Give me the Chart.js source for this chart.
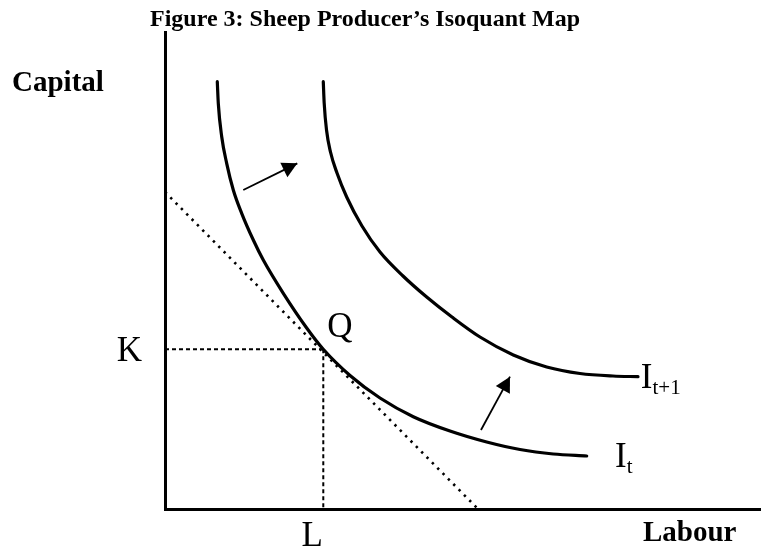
<!DOCTYPE html>
<html>
<head>
<meta charset="utf-8">
<script src="https://cdn.jsdelivr.net/npm/chart.js@4"></script>
<style>
  html, body { margin: 0; padding: 0; background: #fff; }
  #wrap { width: 761px; height: 550px; }
</style>
</head>
<body>
<div id="wrap"><canvas id="c" width="761" height="550"></canvas></div>
<script>
// ---- Data (arbitrary units: Labour 0..12, Capital 0..10) ----
const chartTitle = 'Figure 3: Sheep Producer\u2019s Isoquant Map';
const xAxisName = 'Labour';
const yAxisName = 'Capital';
const yTickLabel = 'K';
const xTickLabel = 'L';
const pointLabel = 'Q';

// Isoquant I_t
const isoquantT = [
  {x: 1.053, y: 8.958}, {x: 1.073, y: 8.505}, {x: 1.142, y: 7.805}, {x: 1.242, y: 7.247},
  {x: 1.375, y: 6.688}, {x: 1.544, y: 6.199}, {x: 1.778, y: 5.639}, {x: 1.979, y: 5.220},
  {x: 2.382, y: 4.522}, {x: 2.853, y: 3.795}, {x: 3.187, y: 3.348}, {x: 3.725, y: 2.799},
  {x: 4.329, y: 2.327}, {x: 4.999, y: 1.935}, {x: 5.738, y: 1.635}, {x: 6.477, y: 1.405},
  {x: 7.148, y: 1.247}, {x: 7.818, y: 1.153}, {x: 8.491, y: 1.111}
];
// Isoquant I_{t+1}
const isoquantT1 = [
  {x: 3.187, y: 8.958}, {x: 3.205, y: 8.512}, {x: 3.252, y: 7.945}, {x: 3.332, y: 7.484},
  {x: 3.463, y: 7.044}, {x: 3.658, y: 6.541}, {x: 3.966, y: 5.933}, {x: 4.329, y: 5.388},
  {x: 4.792, y: 4.885}, {x: 5.269, y: 4.444}, {x: 5.778, y: 4.025}, {x: 6.342, y: 3.606},
  {x: 7.013, y: 3.229}, {x: 7.685, y: 2.977}, {x: 8.356, y: 2.841}, {x: 9.020, y: 2.788},
  {x: 9.523, y: 2.774}
];
// Isocost (tangent) line
const isocost = [{x: 0, y: 6.646}, {x: 6.302, y: 0}];
// Optimum Q
const optimum = {x: 3.187, y: 3.348};
// Shift arrows (tail -> tip)
const arrowA = [{x: 1.576, y: 6.688}, {x: 2.664, y: 7.247}];
const arrowB = [{x: 6.362, y: 1.656}, {x: 6.946, y: 2.774}];
// Curve labels
const curveLabels = [
  {main: 'I', sub: 't', x: 9.06, y: 1.11},
  {main: 'I', sub: 't+1', x: 9.58, y: 2.77}
];

const kLine = [{x: 0, y: optimum.y}, {x: optimum.x, y: optimum.y}];
const lLine = [{x: optimum.x, y: optimum.y}, {x: optimum.x, y: 0}];

const SERIF = '"Liberation Serif", "Times New Roman", serif';

const arrowHeads = {
  id: 'arrowHeads',
  afterDatasetsDraw(chart) {
    const {ctx, scales: {x, y}} = chart;
    ctx.save();
    ctx.fillStyle = '#000';
    [arrowA, arrowB].forEach(a => {
      const tx = x.getPixelForValue(a[1].x), ty = y.getPixelForValue(a[1].y);
      const sx = x.getPixelForValue(a[0].x), sy = y.getPixelForValue(a[0].y);
      const len = Math.hypot(tx - sx, ty - sy);
      const ux = (tx - sx) / len, uy = (ty - sy) / len;
      const hl = 15, hw = 8;
      const bx = tx - ux * hl, by = ty - uy * hl;
      ctx.beginPath();
      ctx.moveTo(tx, ty);
      ctx.lineTo(bx - uy * hw, by + ux * hw);
      ctx.lineTo(bx + uy * hw, by - ux * hw);
      ctx.closePath();
      ctx.fill();
    });
    ctx.restore();
  }
};

const textLabels = {
  id: 'textLabels',
  afterDraw(chart) {
    const {ctx, scales: {x, y}, chartArea} = chart;
    ctx.save();
    ctx.fillStyle = '#000';
    ctx.textBaseline = 'alphabetic';
    // title
    ctx.textAlign = 'left';
    ctx.font = 'bold 24px ' + SERIF;
    ctx.fillText(chartTitle, 150, 26);
    // axis names
    ctx.font = 'bold 29px ' + SERIF;
    ctx.fillText(yAxisName, 12, 91);
    ctx.fillText(xAxisName, 643, 541);
    // K and L
    ctx.font = '35px ' + SERIF;
    ctx.textAlign = 'right';
    ctx.fillText(yTickLabel, chartArea.left - 23, y.getPixelForValue(optimum.y) + 12);
    ctx.textAlign = 'center';
    ctx.fillText(xTickLabel, x.getPixelForValue(optimum.x) - 11, chartArea.bottom + 37);
    // Q
    ctx.textAlign = 'left';
    ctx.fillText(pointLabel, x.getPixelForValue(optimum.x) + 4, y.getPixelForValue(optimum.y) - 12);
    // curve labels
    curveLabels.forEach(l => {
      const px = x.getPixelForValue(l.x), py = y.getPixelForValue(l.y);
      ctx.font = '35px ' + SERIF;
      ctx.fillText(l.main, px, py + 11);
      const w = ctx.measureText(l.main).width;
      ctx.font = '21px ' + SERIF;
      ctx.fillText(l.sub, px + w, py + 17);
    });
    ctx.restore();
  }
};

const curveStyle = {
  borderColor: '#000', borderWidth: 3.2, pointRadius: 0, fill: false,
  cubicInterpolationMode: 'monotone', borderCapStyle: 'round'
};

new Chart(document.getElementById('c'), {
  type: 'line',
  data: {
    datasets: [
      Object.assign({label: 'I_t', data: isoquantT}, curveStyle),
      Object.assign({label: 'I_t+1', data: isoquantT1}, curveStyle),
      {label: 'isocost', data: isocost, borderColor: '#000', borderWidth: 2.6, borderDash: [2.4, 5.2], pointRadius: 0, tension: 0},
      {label: 'K', data: kLine, borderColor: '#000', borderWidth: 2, borderDash: [4, 3], pointRadius: 0, tension: 0},
      {label: 'L', data: lLine, borderColor: '#000', borderWidth: 2, borderDash: [4, 3], pointRadius: 0, tension: 0},
      {label: 'arrowA', data: arrowA, borderColor: '#000', borderWidth: 1.8, pointRadius: 0, tension: 0},
      {label: 'arrowB', data: arrowB, borderColor: '#000', borderWidth: 1.8, pointRadius: 0, tension: 0}
    ]
  },
  options: {
    responsive: false,
    animation: false,
    events: [],
    layout: {padding: {left: 165, top: 32, right: 0, bottom: 41}},
    plugins: {legend: {display: false}, tooltip: {enabled: false}, title: {display: false}},
    scales: {
      x: {type: 'linear', min: 0, max: 12,
          ticks: {display: false}, grid: {display: false, drawTicks: false},
          border: {display: true, color: '#000', width: 3}},
      y: {type: 'linear', min: 0, max: 10,
          ticks: {display: false}, grid: {display: false, drawTicks: false},
          border: {display: true, color: '#000', width: 3}}
    }
  },
  plugins: [arrowHeads, textLabels]
});
</script>
</body>
</html>
